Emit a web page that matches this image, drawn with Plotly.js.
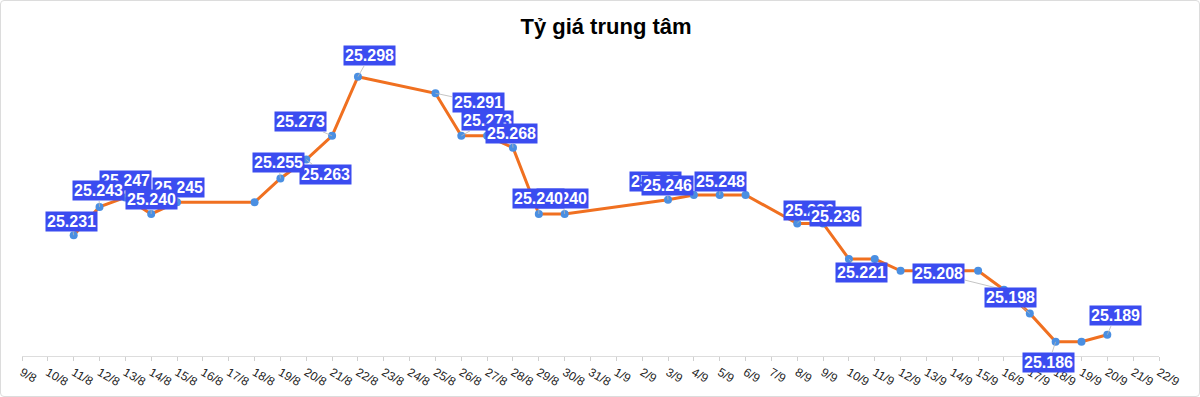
<!DOCTYPE html>
<html>
<head>
<meta charset="utf-8">
<script src="https://cdn.plot.ly/plotly-3.0.1.min.js"></script>
<style>
  html, body { margin: 0; padding: 0; background: #fff; }
  #wrap { position: relative; width: 1200px; height: 397px; }
  #chart { width: 1200px; height: 397px; }
  #frame { position: absolute; left: 0; top: 0; width: 1200px; height: 397px; box-sizing: border-box;
           border: 1px solid #dcdcdc; border-radius: 4px; pointer-events: none; }
</style>
</head>
<body>
<div id="wrap"><div id="chart"></div><div id="frame"></div></div>
<script>
// ---- data ----
const categories = [
  '9/8','10/8','11/8','12/8','13/8','14/8','15/8','16/8','17/8','18/8','19/8','20/8','21/8','22/8','23/8',
  '24/8','25/8','26/8','27/8','28/8','29/8','30/8','31/8','1/9','2/9','3/9','4/9','5/9','6/9','7/9',
  '8/9','9/9','10/9','11/9','12/9','13/9','14/9','15/9','16/9','17/9','18/9','19/9','20/9','21/9','22/9'
];
const dates = [
  '11/8','12/8','13/8','14/8','15/8','18/8','19/8','20/8','21/8','22/8',
  '25/8','26/8','27/8','28/8','29/8','30/8','3/9','4/9','5/9','6/9',
  '8/9','9/9','10/9','11/9','12/9','15/9','16/9','17/9','18/9','19/9','20/9'
];
const rates = [
  25.231,25.243,25.247,25.240,25.245,25.245,25.255,25.263,25.273,25.298,
  25.291,25.273,25.273,25.268,25.240,25.240,25.246,25.248,25.248,25.248,
  25.236,25.236,25.221,25.221,25.216,25.216,25.208,25.198,25.186,25.186,25.189
];
const title = 'Tỷ giá trung tâm';

// ---- label placement (style only): date -> [dx, dy] pixel offset, in drawing order ----
const labelPlacement = [
  ['13/8', [0, -17]], ['15/8', [1, -15]], ['12/8', [-1, -16]], ['14/8', [0, -14]], ['11/8', [-2, -14]],
  ['20/8', [19, 15]], ['19/8', [-2, -16]], ['21/8', [-32, -14]], ['22/8', [12, -21]],
  ['25/8', [43, 9]], ['26/8', [26, -15]], ['28/8', [-1, -14]],
  ['30/8', [-2, -15]], ['29/8', [0, -15]],
  ['4/9', [-38, -14]], ['3/9', [-1, -14]], ['5/9', [1, -14]],
  ['8/9', [12, -13]], ['9/9', [12, -7]],
  ['10/9', [13, 14]], ['16/9', [-65, -16]], ['17/9', [-19, -16]],
  ['18/9', [-7, 21]], ['20/9', [8, -19]]
];

const annotations = labelPlacement.map(([d, off]) => {
  const i = dates.indexOf(d);
  return {
    x: d, y: rates[i], xref: 'x', yref: 'y',
    text: rates[i].toFixed(3),
    showarrow: true, arrowhead: 0, arrowwidth: 0.8, arrowcolor: '#b5b5b5', standoff: 0,
    ax: off[0], ay: off[1],
    bgcolor: '#3b4cf0', borderpad: 1,
    font: { family: 'Liberation Sans, Arial, sans-serif', size: 16, color: '#ffffff', weight: 'bold' }
  };
});

const trace = {
  x: dates, y: rates, type: 'scatter', mode: 'lines+markers',
  line: { color: '#f07020', width: 3 },
  marker: { color: '#4a8fe2', size: 8 },
  hoverinfo: 'skip'
};

const layout = {
  width: 1200, height: 397,
  margin: { l: 22, r: 41, t: 40, b: 41 },
  paper_bgcolor: '#ffffff', plot_bgcolor: '#ffffff',
  showlegend: false,
  title: {
    text: '<b>' + title + '</b>', x: 0.505, xref: 'container', xanchor: 'center',
    y: 0.935, yref: 'container', yanchor: 'middle',
    font: { family: 'Liberation Sans, Arial, sans-serif', size: 22, color: '#000' }
  },
  xaxis: {
    type: 'category', categoryorder: 'array', categoryarray: categories,
    tickvals: categories, ticktext: categories,
    range: [0, categories.length - 1],
    showgrid: false, zeroline: false,
    showline: true, linecolor: '#dddddd', linewidth: 1,
    ticks: 'outside', ticklen: 4, tickcolor: '#d0d0d0',
    tickangle: 30,
    tickfont: { family: 'Liberation Sans, Arial, sans-serif', size: 12, color: '#222' }
  },
  yaxis: {
    range: [25.180, 25.3135],
    showgrid: false, zeroline: false, showline: false,
    showticklabels: false, ticks: ''
  },
  annotations: annotations
};

Plotly.newPlot('chart', [trace], layout, { staticPlot: true, displayModeBar: false });
</script>
</body>
</html>
